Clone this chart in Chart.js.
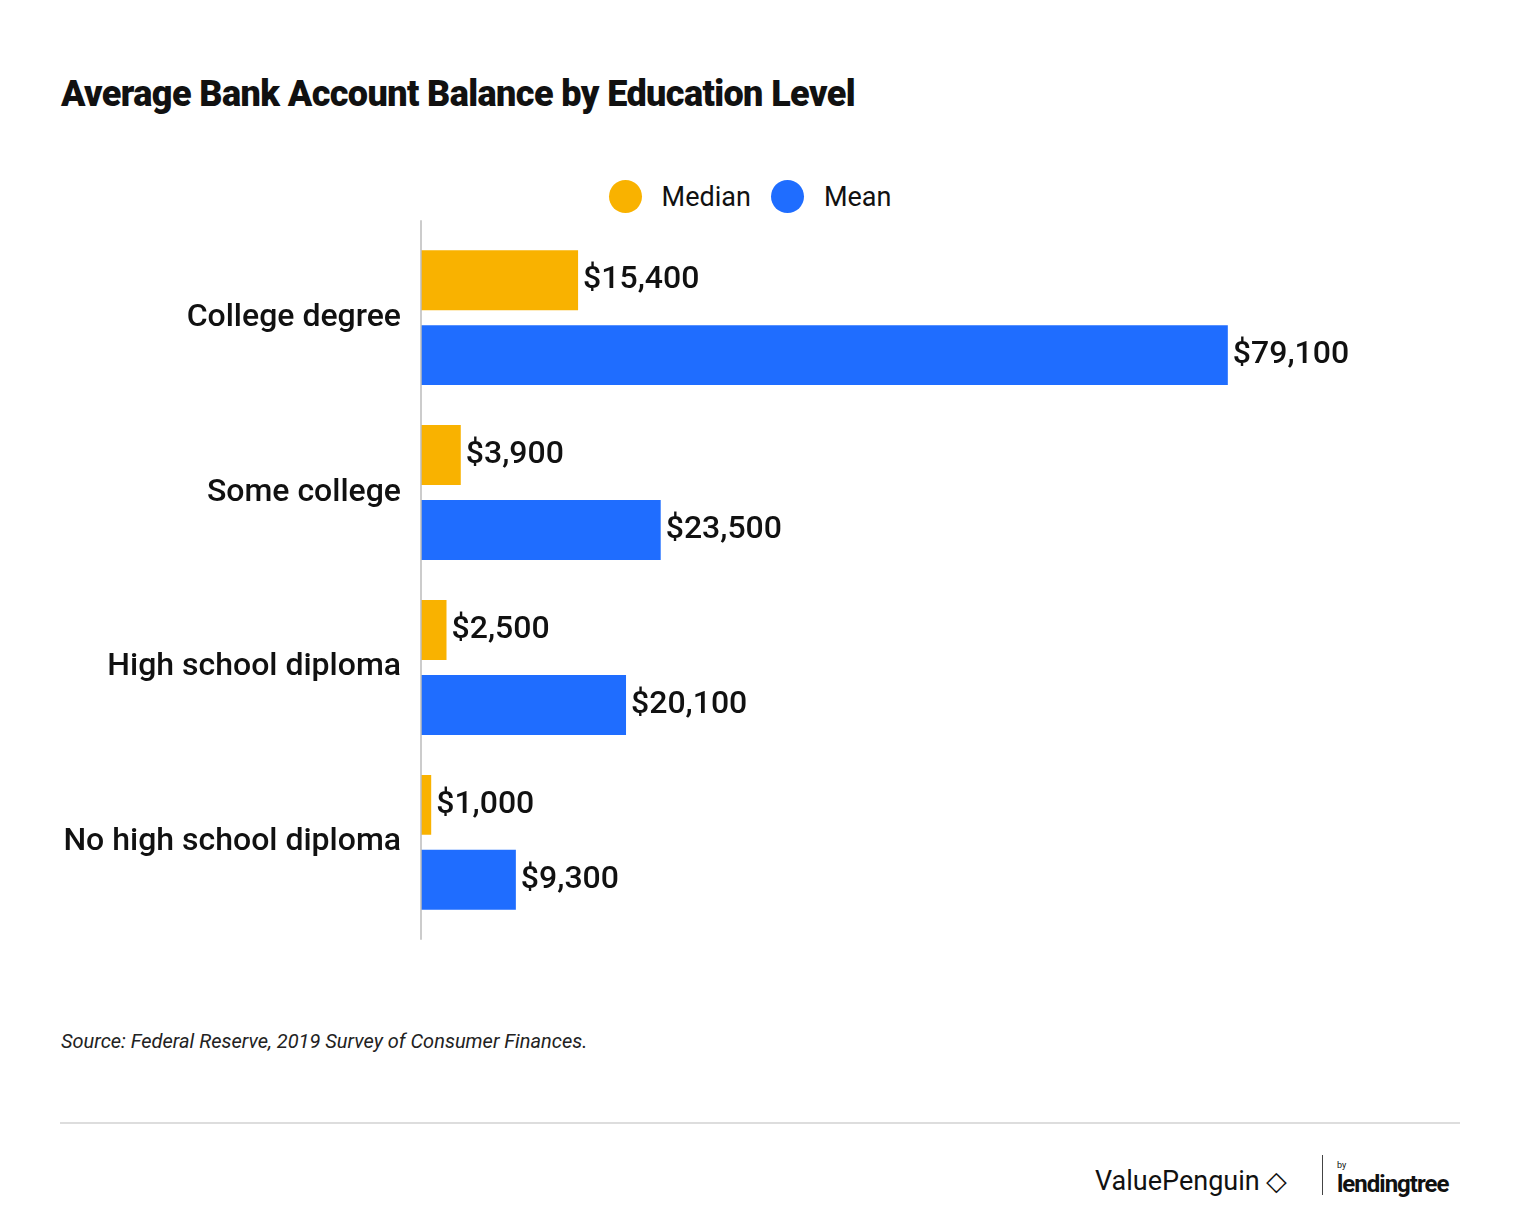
<!DOCTYPE html>
<html><head><meta charset="utf-8">
<script src="https://cdn.jsdelivr.net/npm/chart.js@4"></script>
<style>
body{margin:0;width:1520px;height:1230px;background:#fff;font-family:Roboto,sans-serif;position:relative;overflow:hidden}
.t{position:absolute;left:61px;top:73px;font-size:36px;font-weight:900;letter-spacing:-0.6px;color:#111}
.lg{position:absolute;top:180px;left:0;width:1500px;text-align:center;font-size:27px;color:#111}
.lg span{display:inline-flex;align-items:center;margin:0 10px}
.lg i{display:inline-block;width:33px;height:33px;border-radius:50%;margin-right:20px}
#w{position:absolute;left:0;top:199px;width:1460px;height:762px}
.src{position:absolute;left:61px;top:1029px;font-size:20px;font-style:italic;color:#222}
.hr{position:absolute;left:60px;top:1122px;width:1400px;height:2px;background:#ddd}
.vp{position:absolute;left:1095px;top:1165px;font-size:27px;color:#111}
.bar{position:absolute;left:1322px;top:1155px;width:1px;height:40px;background:#444}
.lt{position:absolute;left:1337px;top:1170px;font-size:24px;font-weight:700;color:#111;letter-spacing:-1px}
.by{position:absolute;left:1337px;top:1160px;font-size:9px;color:#111}
</style></head><body>
<div class="t">Average Bank Account Balance by Education Level</div>
<div class="lg"><span><i style="background:#f9b200"></i>Median</span><span><i style="background:#1f6dff"></i>Mean</span></div>
<div id="w"><canvas id="c" width="1460" height="762"></canvas></div>
<div class="src">Source: Federal Reserve, 2019 Survey of Consumer Finances.</div>
<div class="hr"></div>
<div class="vp">ValuePenguin ◇</div><div class="bar"></div>
<div class="by">by</div><div class="lt">lendingtree</div>
<script>
const categories = ["College degree", "Some college", "High school diploma", "No high school diploma"];
const median = [15400, 3900, 2500, 1000];
const mean = [79100, 23500, 20100, 9300];

const labelsPlugin = {
  id: "vals",
  afterDatasetsDraw(chart) {
    const ctx = chart.ctx;
    ctx.save();
    ctx.font = "500 32px Roboto";
    ctx.fillStyle = "#111";
    ctx.textBaseline = "middle";
    chart.data.datasets.forEach((ds, i) => {
      chart.getDatasetMeta(i).data.forEach((bar, j) => {
        ctx.fillText("$" + ds.data[j].toLocaleString("en-US"), bar.x + 5, bar.y);
      });
    });
    const a = chart.chartArea;
    ctx.strokeStyle = "#bbb";
    ctx.lineWidth = 1.5;
    ctx.beginPath();
    ctx.moveTo(a.left, a.top - 10);
    ctx.lineTo(a.left, a.bottom + 10);
    ctx.stroke();
    ctx.restore();
  }
};

new Chart(document.getElementById("c"), {
  type: "bar",
  data: {
    labels: categories,
    datasets: [
      { label: "Median", data: median, backgroundColor: "#f9b200" },
      { label: "Mean", data: mean, backgroundColor: "#1f6dff" }
    ]
  },
  options: {
    indexAxis: "y",
    responsive: false,
    animation: false,
    devicePixelRatio: 1,
    categoryPercentage: 150 / 175,
    barPercentage: 0.8,
    layout: { padding: { top: 10, bottom: 10, right: 19 } },
    plugins: { legend: { display: false }, tooltip: { enabled: false } },
    scales: {
      x: { min: 0, max: 100000, display: false },
      y: {
        grid: { display: false },
        border: { display: false },
        ticks: { color: "#111", font: { family: "Roboto", size: 32, weight: 500 }, padding: 12 },
        afterFit(s) { s.width = 421; }
      }
    }
  },
  plugins: [labelsPlugin]
});
</script>
</body></html>
